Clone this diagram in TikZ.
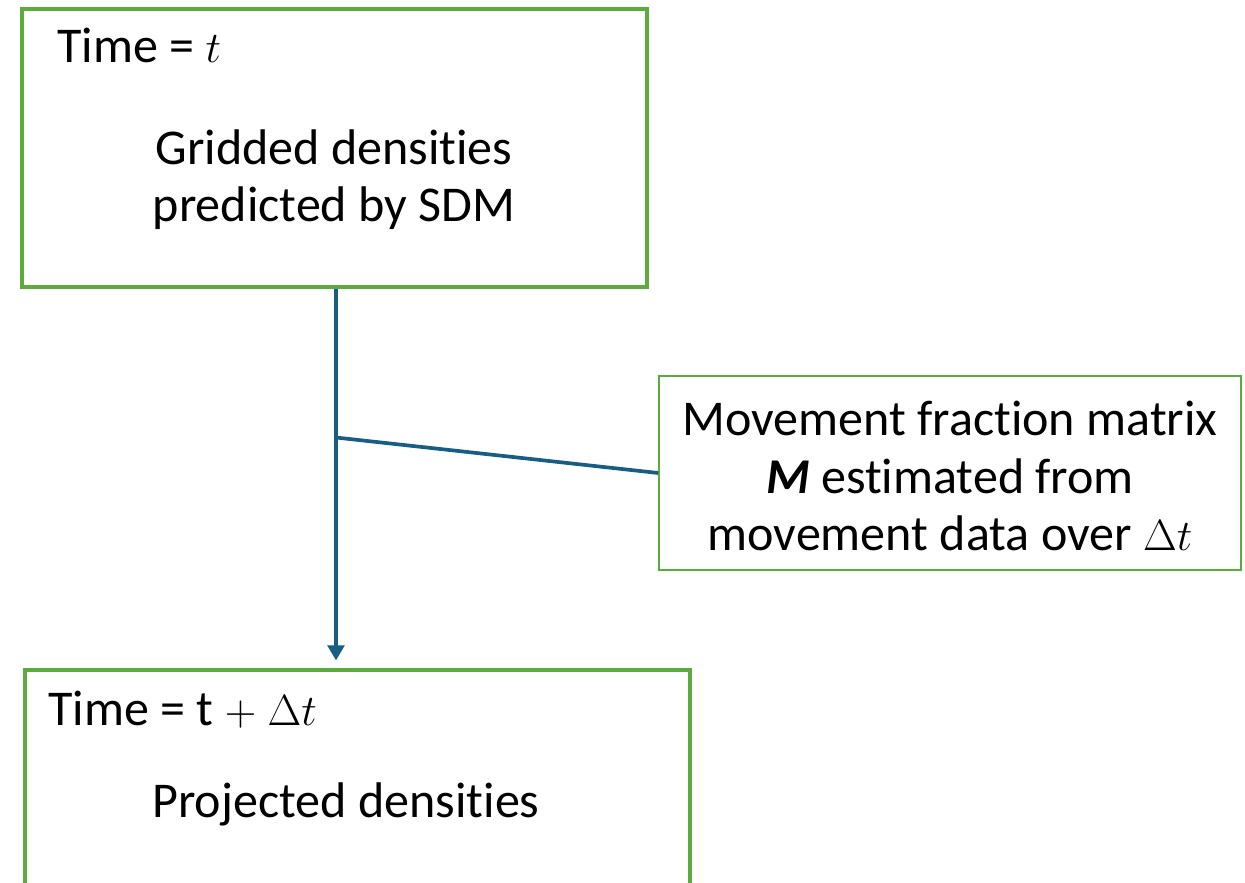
\documentclass[tikz,border=0pt]{standalone}
\usepackage{fontspec}
\setmainfont{Carlito}[Ligatures=NoCommon]
\usetikzlibrary{arrows.meta,positioning}
\definecolor{boxgreen}{RGB}{90,173,58}
\definecolor{flowblue}{RGB}{24,94,132}
\begin{document}
\begin{tikzpicture}[x=0.02cm,y=-0.02cm,
  every node/.style={font=\fontsize{28.5}{32.6}\selectfont,inner sep=0pt},
  stepbox/.style={draw=boxgreen,line width=1.8pt},
  inbox/.style={draw=boxgreen,line width=0.9pt},
  flow/.style={draw=flowblue,line width=2.1pt}]
\clip (0,0) rectangle (1245,883);
% boxes
\node[stepbox,minimum width=12.5cm,minimum height=5.56cm] (now) at (334.5,148) {};
\node[inbox,minimum width=11.64cm,minimum height=3.88cm] (side) at (950,473) {};
\node[stepbox,minimum width=13.3cm,minimum height=5.2cm] (next) at (357.5,800) {};
% texts
\node[anchor=base west] (nowlabel) at (57,62) {Time = $t$};
\node[align=center] (nowtext) at (334,180) {Gridded densities\\predicted by SDM};
\node[align=center] (sidetext) at (950,476) {Movement fraction matrix\\\textbf{\textit{M}} estimated from\\movement data over $\Delta t$};
\node[anchor=base west] (nextlabel) at (48,725) {Time = t $+$ $\Delta t$};
\node[anchor=base] (nexttext) at (346,817) {Projected densities};
% connectors
\coordinate[below=2.98cm of now.south] (fork);
\draw[flow,-{Triangle[length=0.3cm,width=0.33cm]}] ([xshift=0.03cm]now.south) -- ([xshift=0.03cm,yshift=0.16cm]now.south |- next.north);
\draw[flow] ([xshift=0.03cm]fork) -- (side.west);
\end{tikzpicture}
\end{document}
